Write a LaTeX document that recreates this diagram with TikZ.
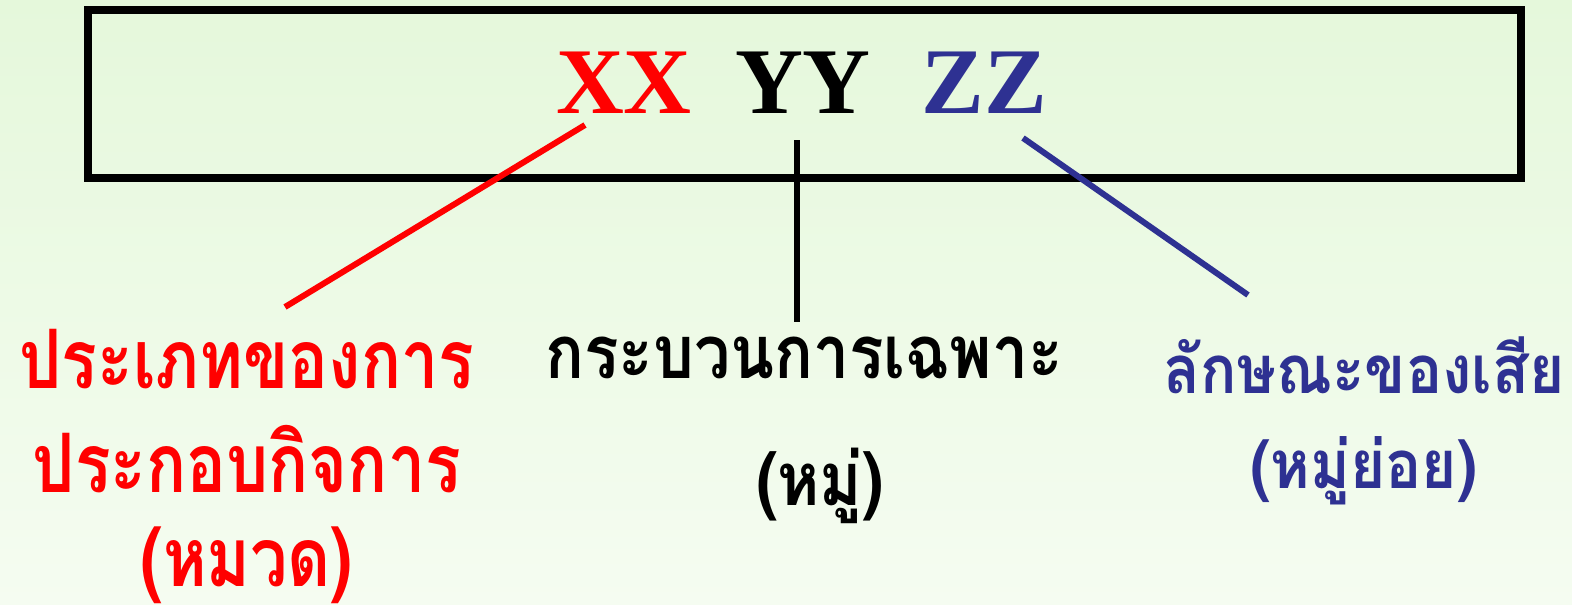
\documentclass[tikz,border=0pt]{standalone}
\usepackage{fontspec}
\setmainfont{Liberation Serif}
\newfontfamily\thaired[Script=Thai,FakeStretch=0.81]{Loma}
\newfontfamily\thaiblack[Script=Thai,FakeStretch=0.87]{Loma}
\newfontfamily\thaiblue[Script=Thai,FakeStretch=0.9]{Loma}
\definecolor{bgtop}{RGB}{229,248,219}
\definecolor{bgbot}{RGB}{245,252,241}
\definecolor{navy}{RGB}{46,49,146}
\definecolor{tred}{RGB}{255,0,0}
\begin{document}
\begin{tikzpicture}[x=1pt,y=-1pt,
  lbl/.style={anchor=base,inner sep=0pt},
  redlbl/.style={lbl,text=tred,font=\thaired\bfseries\fontsize{82}{82}\selectfont},
  blacklbl/.style={lbl,text=black,font=\thaiblack\bfseries\fontsize{74}{74}\selectfont},
  bluelbl/.style={lbl,text=navy,font=\thaiblue\bfseries\fontsize{67}{67}\selectfont},
  code/.style={anchor=base,inner sep=0pt,font=\bfseries\fontsize{94}{94}\selectfont},
  link/.style={line width=6pt}]
\useasboundingbox (0,0) rectangle (1572,605);
\shade[top color=bgtop,bottom color=bgbot] (0,0) rectangle (1572,605);
\node[draw,line width=8pt,minimum width=1433pt,minimum height=168pt,inner sep=0pt] (box) at (804.5,94) {};
\node[code,text=tred] (xx) at (624,113) {XX};
\node[code,text=black] (yy) at (803,113) {YY};
\node[code,text=navy] (zz) at (984,113) {ZZ};
\node[redlbl] (l1) at (247,388) {ประเภทของการ};
\node[redlbl] (l2) at (247,492) {ประกอบกิจการ};
\node[redlbl] (l3) at (247,586) {(หมวด)};
\node[blacklbl] (m1) at (804,378) {กระบวนการเฉพาะ};
\node[blacklbl] (m2) at (820,505) {(หมู่)};
\node[bluelbl] (r1) at (1364,393) {ลักษณะของเสีย};
\node[bluelbl] (r2) at (1364,488) {(หมู่ย่อย)};
\coordinate (a1) at (585,125); \coordinate (a2) at (285,307);
\coordinate (b1) at (797,140); \coordinate (b2) at (797,322);
\coordinate (c1) at (1023,138); \coordinate (c2) at (1248,295);
\draw[link,tred] (a1) -- (a2);
\draw[link,black] (b1) -- (b2);
\draw[link,navy] (c1) -- (c2);
\end{tikzpicture}
\end{document}
